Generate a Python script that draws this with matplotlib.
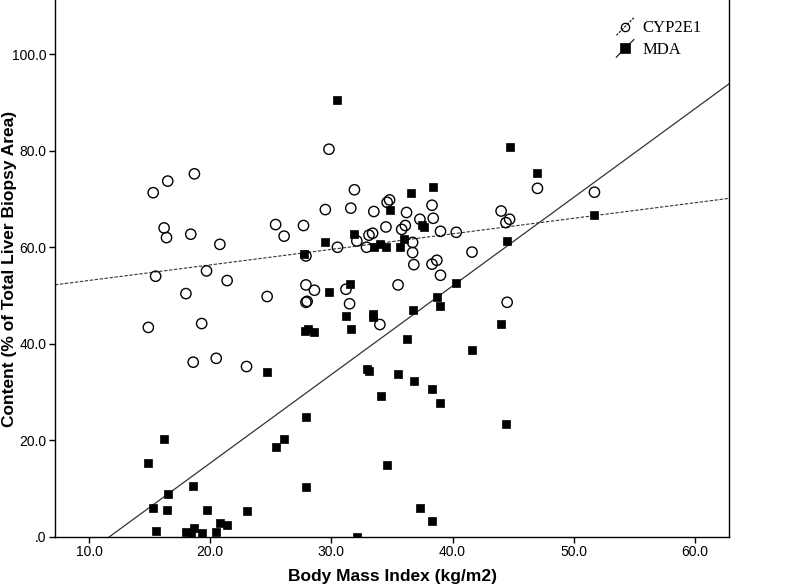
import numpy as np
import matplotlib
matplotlib.use('Agg')
from matplotlib import pyplot as plt
from matplotlib.lines import Line2D
from matplotlib.legend_handler import HandlerBase

# CYP2E1 content vs BMI (open circles)
cyp_bmi = [18.7, 16.5, 15.3, 16.2, 16.4, 18.4, 20.8, 15.5, 19.7, 21.4, 18.0, 14.9, 19.3, 18.6, 20.5, 23.0,
           29.8, 31.9, 29.5, 31.6, 33.5, 34.6, 34.8, 36.2, 37.3, 38.3, 38.4, 25.4, 27.7, 26.1, 34.5, 35.8,
           36.1, 33.1, 33.4, 32.1, 30.5, 32.9, 36.7, 36.7, 39.0, 40.3, 27.9, 36.8, 38.3, 38.7, 39.0, 27.9,
           28.6, 31.2, 24.7, 35.5, 27.9, 28.0, 31.5, 34.0, 47.0, 51.7, 44.0, 44.4, 44.7, 41.6, 44.5]
cyp_val = [75.2, 73.7, 71.3, 64.0, 62.0, 62.7, 60.6, 54.0, 55.1, 53.1, 50.4, 43.4, 44.2, 36.2, 37.0, 35.3,
           80.3, 71.9, 67.8, 68.1, 67.4, 69.3, 69.8, 67.2, 65.8, 68.7, 66.0, 64.7, 64.5, 62.3, 64.2, 63.7,
           64.5, 62.5, 62.9, 61.3, 60.0, 60.0, 61.0, 58.9, 63.3, 63.1, 58.2, 56.4, 56.5, 57.3, 54.2, 52.2,
           51.1, 51.3, 49.8, 52.2, 48.6, 48.8, 48.3, 44.0, 72.2, 71.4, 67.5, 65.1, 65.8, 59.0, 48.6]

# MDA content vs BMI (filled squares)
mda_bmi = [30.5, 38.4, 36.6, 34.8, 37.5, 37.6, 31.9, 29.5, 36.0, 33.5, 34.0, 34.5, 35.7, 27.7, 31.5, 29.8,
           40.3, 38.7, 39.0, 36.7, 44.7, 47.0, 51.7, 44.5, 44.0, 36.2, 41.6, 35.5, 36.8, 38.3, 39.0, 34.1,
           44.4, 31.2, 31.6, 33.4, 33.4, 27.8, 28.1, 28.6, 24.7, 32.9, 33.1, 27.9, 26.1, 25.4, 34.6, 27.9,
           37.3, 38.3, 32.1, 16.2, 14.9, 18.6, 16.5, 15.3, 16.4, 19.7, 23.0, 15.5, 20.8, 21.4, 18.0, 18.4,
           18.7, 19.3, 20.5]
mda_val = [90.4, 72.5, 71.2, 67.8, 64.6, 64.2, 62.7, 61.1, 61.7, 60.1, 60.7, 60.1, 60.1, 58.6, 52.4, 50.8,
           52.5, 49.6, 47.8, 47.0, 80.7, 75.3, 66.7, 61.3, 44.1, 41.1, 38.7, 33.7, 32.3, 30.6, 27.8, 29.3,
           23.5, 45.8, 43.1, 46.1, 45.6, 42.7, 43.1, 42.4, 34.1, 34.8, 34.4, 24.8, 20.3, 18.6, 15.0, 10.4,
           6.1, 3.4, 0.0, 20.3, 15.3, 10.6, 9.0, 6.1, 5.5, 5.6, 5.3, 1.3, 3.0, 2.5, 1.0, 0.3,
           1.8, 0.8, 1.0]

# fit lines (intercept, slope)
cyp_fit = [49.9, 0.322]
mda_fit = [-21.4, 1.835]

x_ticks = [10, 20, 30, 40, 50, 60]
x_ticklabels = ['10.0', '20.0', '30.0', '40.0', '50.0', '60.0']
y_ticks = [0, 20, 40, 60, 80, 100]
y_ticklabels = ['.0', '20.0', '40.0', '60.0', '80.0', '100.0']


class DiagHandler(HandlerBase):
    # legend key: marker with a short diagonal fit line through it
    def __init__(self, ls, **kw):
        super().__init__(**kw)
        self.ls = ls

    def create_artists(self, legend, orig_handle, xdescent, ydescent, width, height, fontsize, trans):
        cx = width / 2 - xdescent
        cy = height / 2 - ydescent
        d = height * 0.75
        ln = Line2D([cx - d, cx + d], [cy - d, cy + d], color='#222222', lw=0.9, linestyle=self.ls, transform=trans)
        mk = Line2D([cx], [cy], marker=orig_handle.get_marker(), markersize=orig_handle.get_markersize(),
                    markerfacecolor=orig_handle.get_markerfacecolor(), markeredgecolor='black',
                    markeredgewidth=orig_handle.get_markeredgewidth(), linestyle='none', transform=trans)
        return [ln, mk]


plt.rcParams['font.family'] = ['Liberation Sans', 'DejaVu Sans']

fig = plt.figure(figsize=(8, 5.85), dpi=100)
ax = fig.add_axes([55 / 800, 48 / 585, 674 / 800, 537 / 585])

xs = np.array([7.2, 62.8])
ax.plot(xs, cyp_fit[0] + cyp_fit[1] * xs, color='#333333', lw=0.8, linestyle=(0, (3, 1.5)), zorder=1)
ax.plot(xs, mda_fit[0] + mda_fit[1] * xs, color='#333333', lw=0.9, zorder=1)

ax.scatter(cyp_bmi, cyp_val, s=55, facecolors='none', edgecolors='black', linewidths=1.0, zorder=3)
ax.scatter(mda_bmi, mda_val, s=36, marker='s', facecolors='black', edgecolors='black', linewidths=0.5, zorder=3)

ax.set_xlim(7.2, 62.8)
ax.set_ylim(0, 111.2)
ax.set_xticks(x_ticks)
ax.set_xticklabels(x_ticklabels)
ax.set_yticks(y_ticks)
ax.set_yticklabels(y_ticklabels)
ax.tick_params(direction='out', length=4, width=1, labelsize=10, color='black', pad=2)
ax.spines['top'].set_visible(False)
for s in ['left', 'bottom', 'right']:
    ax.spines[s].set_linewidth(1.0)

ax.set_xlabel('Body Mass Index (kg/m2)', fontsize=12.5, fontweight='bold')
ax.xaxis.set_label_coords(0.5, -0.06)
ax.set_ylabel('Content (% of Total Liver Biopsy Area)', fontsize=12.5, fontweight='bold')
ax.yaxis.set_label_coords(-0.056, 0.5)

h1 = Line2D([], [], marker='o', markersize=6, markerfacecolor='none', markeredgewidth=0.9, linestyle='none')
h2 = Line2D([], [], marker='s', markersize=7, markerfacecolor='black', markeredgewidth=0.5, linestyle='none')
ax.legend([h1, h2], ['CYP2E1', 'MDA'], loc='upper left', bbox_to_anchor=(0.81, 0.99), frameon=False,
          prop={'family': 'Liberation Serif', 'size': 12}, handlelength=1.1, handletextpad=0.5, labelspacing=0.35,
          handler_map={h1: DiagHandler((0, (2, 1))), h2: DiagHandler('-')})

fig.savefig('out.png', dpi=100)
